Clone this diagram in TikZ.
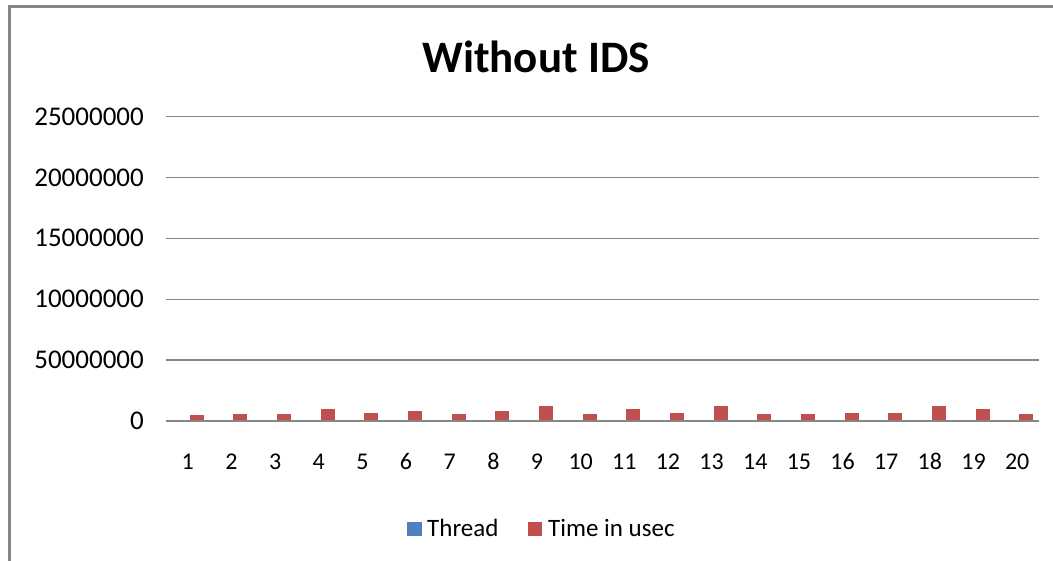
\documentclass[tikz,border=0pt]{standalone}
\usepackage{fontspec}
\setmainfont{Carlito}
\definecolor{gridgray}{HTML}{868686}
\definecolor{threadblue}{HTML}{4F81BD}
\definecolor{timered}{HTML}{C0504D}
\begin{document}
\begin{tikzpicture}[x=1pt,y=-1pt,
  gridline/.style={gridgray,line width=1.3pt},
  ticklabel/.style={anchor=east,inner sep=0pt,font=\fontsize{27}{27}\selectfont},
  catlabel/.style={anchor=base,inner sep=0pt,font=\fontsize{24}{24}\selectfont},
  legendtext/.style={anchor=base west,inner sep=0pt,font=\fontsize{25}{25}\selectfont}]
  \useasboundingbox (0,0) rectangle (1053,560);
  \fill [white] (0,0) rectangle (1053,560);
  % chart frame
  \draw [gridgray,line width=2.6pt] (9.5,562) -- (9.5,6.5) -- (1055,6.5);
  \node [inner sep=0pt,font=\fontsize{45}{45}\selectfont\bfseries] (title) at (536,57) {Without IDS};
  % grid lines and y labels
  \foreach \k/\lab in {0/0,1/50000000,2/10000000,3/15000000,4/20000000,5/25000000}{
    \draw [gridline] (166,421-60.9*\k) -- (1039,421-60.9*\k);
    \node [ticklabel] (y\k) at (144,421-60.9*\k) {\lab};
  }
  % bars
  \foreach \i/\h in {1/5.7,2/6.7,3/6.7,4/11.7,5/7.7,6/9.7,7/6.7,8/9.7,9/14.7,10/6.7,
                     11/11.7,12/7.7,13/14.7,14/6.7,15/6.7,16/7.7,17/7.7,18/14.7,19/11.7,20/6.7}{
    \fill [timered] (166+43.65*\i-43.65/2+2,421) rectangle (166+43.65*\i-43.65/2+16,421-\h);
    \node [catlabel] (x\i) at (166+43.65*\i-43.65/2,469) {\i};
  }
  \draw [gridline] (166,421) -- (1039,421);
  % legend
  \fill [threadblue] (407,522) rectangle (422,536);
  \node [legendtext] (thread) at (427,536) {Thread};
  \fill [timered] (528,522) rectangle (542,536);
  \node [legendtext] (time) at (548,536) {Time in usec};
\end{tikzpicture}
\end{document}
